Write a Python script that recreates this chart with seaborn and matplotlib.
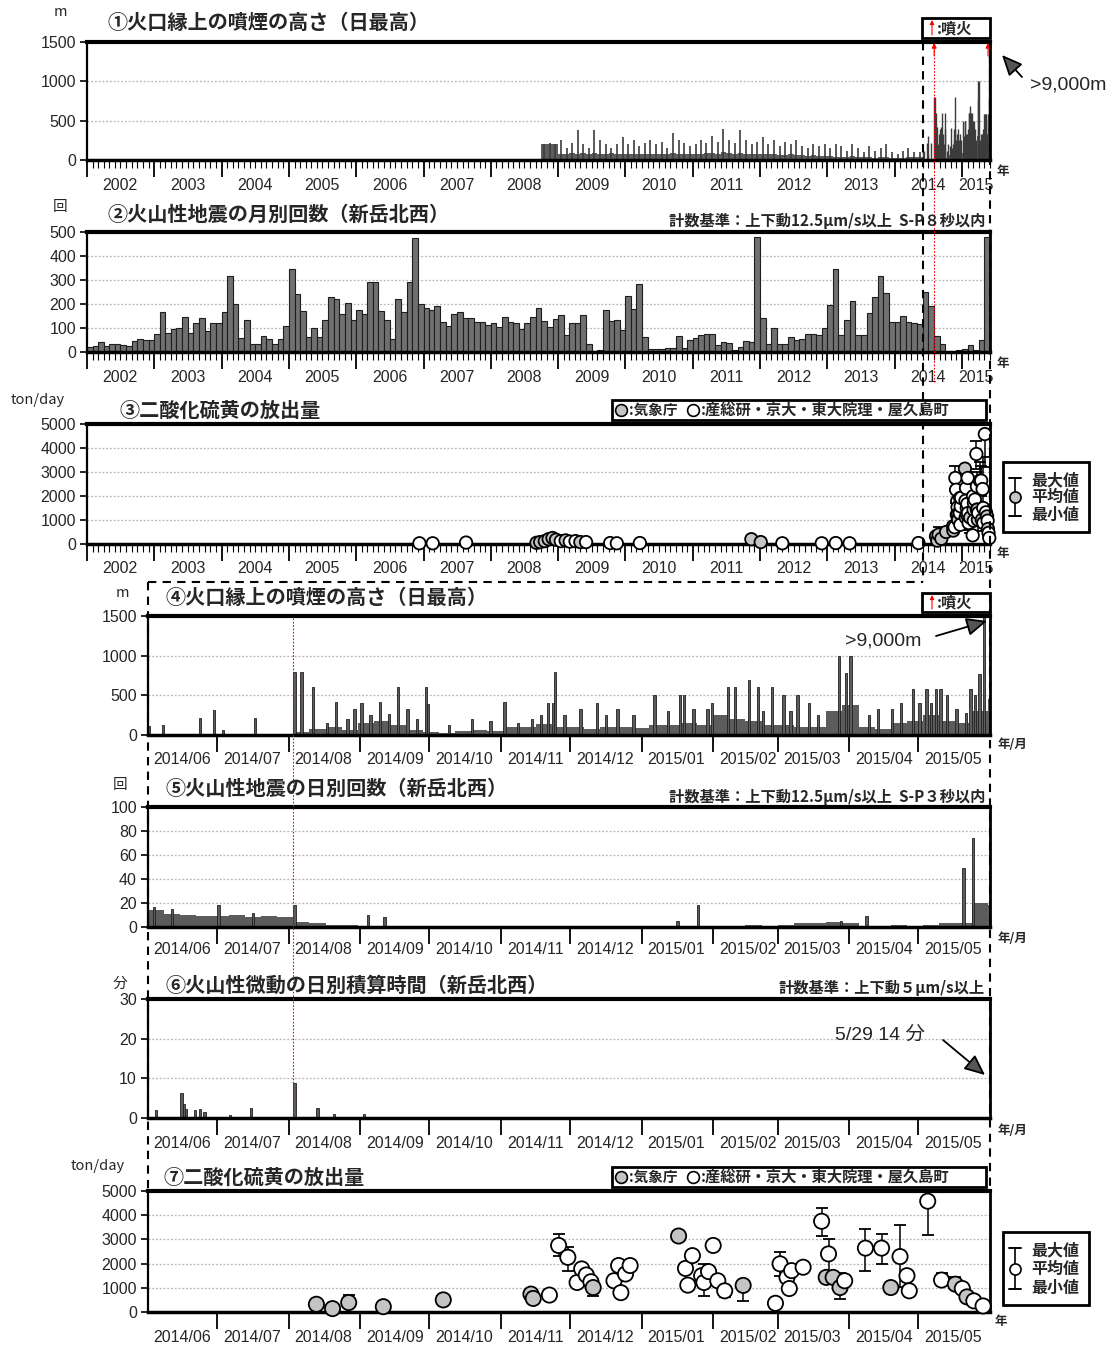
"""
Volcanic activity summary chart (plume height, quakes, tremor, SO2).
Seven stacked panels: long-term 2002-2015 on top, 2014/06-2015/05 detail below.
"""
import numpy as np
import pandas as pd
import matplotlib
matplotlib.use("Agg")
import matplotlib.pyplot as plt
import matplotlib.dates as mdates
from matplotlib.lines import Line2D
from matplotlib.patches import Rectangle
import seaborn as sns

# ---------------------------------------------------------------- data
# (1) plume height, monthly typical level and monthly max, 2008/10 - 2014/05 (m)
p1_start = "2008-10-01"
p1_level = [200, 200, 200,
            80, 80, 90, 80, 90, 80, 90, 80, 80, 90, 80, 80,
            80, 70, 80, 70, 80, 70, 80, 80, 90, 80, 70, 80,
            80, 80, 90, 90, 80, 100, 90, 80, 90, 80, 80, 70,
            80, 70, 70, 60, 60, 70, 60, 60, 50, 60, 50, 50,
            50, 40, 40, 40, 50, 40, 40, 40, 30, 40, 40, 30,
            30, 30, 40, 40, 40]
p1_max = [200, 220, 200,
          250, 150, 220, 386, 200, 150, 386, 250, 200, 150, 200, 294,
          200, 250, 180, 220, 250, 200, 230, 150, 340, 250, 220, 180,
          200, 250, 220, 300, 230, 400, 250, 220, 386, 250, 200, 230,
          294, 200, 250, 180, 230, 200, 250, 180, 150, 200, 180, 200,
          150, 200, 180, 120, 200, 150, 100, 180, 120, 150, 200, 100,
          80, 120, 150, 100, 100]

# (2) monthly volcanic earthquake counts, 2002/01 - 2015/05
quake_start = "2002-01-01"
quake_month = [20, 25, 42, 25, 35, 35, 30, 25, 45, 53, 48, 48,
               73, 165, 80, 95, 100, 147, 80, 120, 140, 88, 120, 120,
               165, 315, 200, 60, 135, 35, 35, 65, 55, 35, 55, 110,
               345, 240, 170, 63, 100, 63, 135, 230, 220, 160, 205, 135,
               175, 157, 290, 290, 170, 135, 53, 220, 165, 290, 475, 200,
               182, 175, 190, 125, 110, 157, 165, 143, 140, 125, 123, 112,
               119, 105, 147, 123, 122, 94, 119, 147, 185, 130, 105, 137,
               154, 70, 119, 122, 154, 35, 3, 7, 175, 129, 133, 91,
               234, 178, 284, 63, 14, 14, 11, 17, 17, 67, 17, 49,
               60, 70, 73, 74, 28, 42, 39, 7, 21, 45, 42, 479,
               140, 35, 102, 35, 35, 63, 49, 56, 73, 77, 70, 100,
               196, 347, 70, 133, 213, 70, 70, 161, 231, 315, 245, 126,
               126, 151, 126, 119, 115, 250, 190, 65, 32, 0, 0, 7,
               12, 28, 10, 50, 480]

# (3) SO2 emission before 2014/06 (ton/day), 1 = JMA
so2_old_date = ["2006-12-10", "2007-02-20", "2007-08-20", "2008-09-05", "2008-09-25",
                "2008-10-20", "2008-11-10", "2008-12-01", "2008-12-20", "2009-01-15",
                "2009-02-10", "2009-03-05", "2009-04-05", "2009-05-01", "2009-06-01",
                "2009-10-10", "2009-11-15", "2010-03-20", "2011-11-15", "2012-01-05",
                "2012-05-01", "2012-12-01", "2013-02-15", "2013-05-01", "2014-05-10"]
so2_old_val = [30, 30, 60, 50, 80, 120, 200, 250, 180, 120, 150, 100, 120, 80, 80,
               40, 30, 40, 200, 80, 30, 30, 40, 30, 40]
so2_old_jma = [0, 0, 0, 1, 1, 1, 1, 1, 1, 0, 1, 0, 0, 1, 0, 0, 0, 0, 1, 1, 0, 0, 0, 0, 0]

# detail period starts 2014/06/01; days below are offsets from that date
detail_start = "2014-06-01"

# (4) daily plume height: weekly level + individual daily peaks (m)
p4_week_level = [10, 5, 5, 10, 10, 5, 5, 5, 5, 40, 80, 100, 60, 150, 180, 120, 60, 40,
                 20, 50, 60, 50, 100, 100, 140, 100, 100, 80, 100, 100, 90, 130, 120,
                 150, 120, 250, 200, 180, 120, 120, 100, 100, 300, 380, 100, 80, 150,
                 180, 250, 180, 150, 300, 460]
p4_spike_day = [0, 6, 22, 28, 32, 46, 63, 66, 71, 77, 81, 86, 89, 92, 96, 100, 104, 108,
                112, 116, 120, 121, 130, 140, 148, 154, 160, 166, 170, 173, 175, 176, 180,
                187, 194, 198, 203, 210, 219, 225, 230, 232, 236, 242, 244, 251, 254, 260,
                264, 266, 270, 275, 278, 281, 286, 290, 299, 302, 304, 312, 316, 322, 326,
                331, 334, 337, 339, 341, 343, 346, 350, 354, 356, 358, 360, 362]
p4_spike_val = [110, 120, 210, 310, 60, 210, 795, 795, 600, 150, 420, 200, 330, 400, 250,
                420, 260, 600, 330, 200, 600, 390, 120, 200, 180, 410, 150, 200, 250, 400,
                400, 795, 250, 330, 400, 250, 330, 250, 500, 300, 500, 500, 330, 330, 400,
                600, 600, 690, 600, 300, 600, 500, 300, 500, 400, 250, 1000, 780, 1000, 250,
                330, 330, 400, 580, 400, 580, 400, 580, 580, 500, 330, 280, 580, 500, 770,
                9000]

# (5) daily volcanic earthquake counts: weekly level + peaks
p5_week_level = [14, 11, 10, 9, 9, 10, 8, 9, 8, 4, 3, 2, 2, 1, 1, 1, 1, 0,
                 0, 0, 0, 0, 0, 0, 1, 0, 0, 0, 0, 0, 1,
                 1, 1, 1, 1, 1, 1, 2, 1, 2, 3, 3, 4, 3, 1, 1, 2, 1, 2, 3, 3, 20, 18]
p5_spike_day = [2, 10, 30, 45, 63, 95, 102, 229, 238, 300, 311, 353, 357]
p5_spike_val = [17, 15, 18, 12, 18, 10, 8, 5, 18, 5, 9, 49, 74]

# (6) daily tremor duration (minutes)
p6_day = [3, 14, 15, 16, 20, 22, 24, 35, 44, 63, 73, 80, 93]
p6_min = [1.9, 6.3, 3.5, 2.2, 2.0, 2.3, 1.6, 0.8, 2.6, 8.9, 2.6, 1.0, 0.9]

# (7) SO2 emission 2014/06 - 2015/05 (ton/day): mean, JMA flag, min, max
so2_day = [73, 80, 87, 102, 128, 166, 167, 174, 178, 182, 186, 188, 190, 192, 193,
           202, 204, 205, 207, 209, 230, 233, 234, 236, 240, 241, 243, 245, 247, 250,
           258, 272, 274, 277, 278, 279, 284, 292, 294, 295, 297, 300, 302, 311, 318,
           322, 326, 329, 330, 338, 344, 350, 353, 355, 358, 362]
so2_val = [320, 140, 390, 220, 500, 740, 560, 700, 2750, 2260, 1220, 1780, 1530, 1250, 1010,
           1290, 1920, 800, 1570, 1920, 3140, 1800, 1110, 2330, 1500, 1220, 1670, 2750, 1290, 875,
           1100, 360, 1990, 1430, 970, 1710, 1850, 3750, 1430, 2400, 1430, 1010, 1290, 2640, 2640,
           1010, 2290, 1500, 875, 4580, 1320, 1150, 970, 625, 460, 250]
so2_jma = [1, 1, 1, 1, 1, 1, 1, 0, 0, 0, 0, 0, 0, 0, 1,
           0, 0, 0, 0, 0, 1, 0, 0, 0, 0, 0, 0, 0, 0, 0,
           1, 0, 0, 0, 0, 0, 0, 0, 1, 0, 1, 1, 0, 0, 0,
           1, 0, 0, 0, 0, 0, 1, 0, 1, 0, 0]
nan = np.nan
so2_lo = [nan, nan, nan, nan, nan, nan, nan, nan, 2300, 1700, nan, nan, nan, nan, 670,
          nan, nan, nan, nan, nan, nan, nan, nan, nan, nan, 670, nan, nan, nan, 600,
          460, nan, 1500, nan, nan, nan, nan, 3120, nan, 1600, nan, 530, nan, 1710, 1990,
          800, 1050, nan, nan, 3190, nan, nan, nan, nan, nan, nan]
so2_hi = [nan, nan, 690, nan, nan, nan, nan, nan, 3240, 2700, nan, nan, nan, nan, 1350,
          nan, nan, nan, nan, nan, nan, nan, nan, nan, nan, 2000, nan, nan, nan, nan,
          1250, nan, 2500, nan, nan, nan, nan, 4300, nan, 3000, nan, 1600, nan, 3420, 3240,
          1200, 3610, nan, nan, nan, 1610, 1430, nan, nan, nan, nan]

eruptions = ["2014-08-03", "2015-05-29"]

# ---------------------------------------------------------------- style
sns.set_theme(style="white")
plt.rcParams["font.family"] = ["Noto Sans CJK JP", "DejaVu Sans"]
NUM = ["Liberation Sans", "DejaVu Sans"]
BAR = "#5c5c5c"

W, H = 1110, 1348
fig = plt.figure(figsize=(W / 100, H / 100), dpi=100)


def num(d):
    return mdates.date2num(pd.Timestamp(d))


D0 = num(detail_start)
L0, L1 = num("2002-01-01"), num("2015-06-02")
S1 = num("2015-06-01")


def axes_at(l, t, r, b):
    return fig.add_axes([l / W, 1 - b / H, (r - l) / W, (b - t) / H])


def fig_line(x0, y0, x1, y1, **kw):
    fig.add_artist(Line2D([x0 / W, x1 / W], [1 - y0 / H, 1 - y1 / H],
                          transform=fig.transFigure, **kw))


def fig_text(x, y, s, **kw):
    fig.text(x / W, 1 - y / H, s, **kw)


def fig_arrow(ax, x0, y0, x1, y1, **kw):
    ax.annotate("", xy=(x1, H - y1), xytext=(x0, H - y0), xycoords="figure pixels",
                textcoords="figure pixels", annotation_clip=False, arrowprops=kw)


def long_px(d):
    return 87 + (num(d) - L0) / (L1 - L0) * (990 - 87)


def frame(ax, ymax, ystep):
    ax.set_ylim(0, ymax)
    ticks = np.arange(0, ymax + 1, ystep)
    ax.set_yticks(ticks)
    ax.set_yticklabels([f"{t:g}" for t in ticks], fontfamily=NUM, fontsize=11.5)
    ax.grid(axis="y", color="#b5b5b5", lw=0.9, ls=(0, (1.5, 1.5)))
    ax.grid(axis="x", visible=False)
    ax.set_axisbelow(True)
    for s in ax.spines.values():
        s.set_visible(True)
        s.set_color("black")
    ax.spines["top"].set_linewidth(3)
    ax.spines["bottom"].set_linewidth(2.5)
    ax.spines["left"].set_linewidth(1.6)
    ax.spines["right"].set_linewidth(2)
    ax.tick_params(axis="y", left=True, length=5, width=1.2, pad=3, color="black")


def long_xaxis(ax):
    ax.set_xlim(L0, L1)
    ax.set_xticks(mdates.date2num(pd.date_range("2002-01-01", "2015-01-01", freq="YS")))
    ax.set_xticklabels([])
    ax.set_xticks(mdates.date2num(pd.date_range("2002-01-01", "2015-06-01", freq="MS")), minor=True)
    ax.tick_params(axis="x", which="major", bottom=True, length=12, width=1.3, color="black")
    ax.tick_params(axis="x", which="minor", bottom=True, length=6, width=0.8, color="black")
    for yr in range(2002, 2016):
        mid = num(f"{yr}-07-01") if yr < 2015 else num("2015-03-16")
        ax.annotate(str(yr), xy=(mid, 0), xycoords=("data", "axes fraction"),
                    xytext=(0, -18), textcoords="offset points", ha="center", va="center",
                    fontsize=11.5, fontfamily=NUM)


def short_xaxis(ax, off=-18):
    ax.set_xlim(D0, S1)
    ax.set_xticks(mdates.date2num(pd.date_range("2014-07-01", "2015-05-01", freq="MS")))
    ax.set_xticklabels([])
    ax.tick_params(axis="x", bottom=True, length=12, width=1.3, color="black")
    for m in pd.date_range(detail_start, "2015-05-01", freq="MS"):
        ax.annotate(f"{m.year}/{m.month:02d}", xy=(num(m) + 15, 0),
                    xycoords=("data", "axes fraction"), xytext=(0, off),
                    textcoords="offset points", ha="center", va="center",
                    fontsize=11.5, fontfamily=NUM)


def title(x, y, s):
    fig_text(x, y, s, fontsize=14.5, fontweight="bold", ha="left", va="center")


def criteria(y, s):
    fig_text(985, y, s, fontsize=11, fontweight="bold", ha="right", va="center")


def so2_points(ax, x, val, jma, lo, hi, size):
    df = pd.DataFrame({"x": x, "y": val, "src": np.where(np.array(jma) == 1, "jma", "other")})
    lo = np.array(lo, dtype=float)
    hi = np.array(hi, dtype=float)
    has = ~(np.isnan(lo) & np.isnan(hi))
    v = np.array(val, dtype=float)
    if has.any():
        lo_e = np.where(np.isnan(lo), v, lo)[has]
        hi_e = np.where(np.isnan(hi), v, hi)[has]
        ax.errorbar(np.array(x)[has], v[has], yerr=[v[has] - lo_e, hi_e - v[has]],
                    fmt="none", ecolor="black", elinewidth=1.1, capsize=4.5, capthick=1.3,
                    zorder=3)
    sns.scatterplot(data=df, x="x", y="y", hue="src",
                    palette={"jma": "#c4c4c4", "other": "white"},
                    edgecolor="black", linewidth=1.3, s=size, legend=False,
                    ax=ax, zorder=5, clip_on=False)
    ax.set_xlabel("")
    ax.set_ylabel("")


# ---------------------------------------------------------------- panel 1
ax1 = axes_at(87, 42, 990, 160)
frame(ax1, 1500, 500)
long_xaxis(ax1)
m1 = mdates.date2num(pd.date_range(p1_start, periods=len(p1_level) + 1, freq="MS"))
ax1.bar(m1[:-1], p1_level, width=np.diff(m1), align="edge", color=BAR, lw=0)
ax1.vlines(m1[:-1] + np.diff(m1) / 2, 0, p1_max, color="#3c3c3c", lw=1.2)
ax1.bar(D0 + 7 * np.arange(len(p4_week_level)), p4_week_level, width=7, align="edge",
        color=BAR, lw=0)
ax1.vlines(D0 + np.array(p4_spike_day), 0, p4_spike_val, color="#3c3c3c", lw=1.0)

# ---------------------------------------------------------------- panel 2
ax2 = axes_at(87, 232, 990, 352)
frame(ax2, 500, 100)
long_xaxis(ax2)
m2 = mdates.date2num(pd.date_range(quake_start, periods=len(quake_month) + 1, freq="MS"))
ax2.bar(m2[:-1], quake_month, width=np.diff(m2), align="edge", color="#707070",
        edgecolor="#1e1e1e", lw=0.8)

# ---------------------------------------------------------------- panel 3
ax3 = axes_at(87, 424, 990, 544)
frame(ax3, 5000, 1000)
long_xaxis(ax3)
so2_points(ax3, [num(d) for d in so2_old_date], so2_old_val, so2_old_jma,
           [nan] * len(so2_old_val), [nan] * len(so2_old_val), 80)
so2_points(ax3, D0 + np.array(so2_day), so2_val, so2_jma, so2_lo, so2_hi, 80)
ax3.set_xlim(L0, L1)
ax3.set_ylim(0, 5000)

# ---------------------------------------------------------------- panel 4
ax4 = axes_at(148, 616, 990, 735)
frame(ax4, 1500, 500)
short_xaxis(ax4)
ax4.bar(D0 + 7 * np.arange(len(p4_week_level)), p4_week_level, width=7, align="edge",
        color=BAR, lw=0)
ax4.bar(D0 + np.array(p4_spike_day), p4_spike_val, width=1.0, align="edge",
        color=BAR, edgecolor="#202020", lw=0.6)

# ---------------------------------------------------------------- panel 5
ax5 = axes_at(148, 807, 990, 927)
frame(ax5, 100, 20)
short_xaxis(ax5, off=-16)
ax5.bar(D0 + 7 * np.arange(len(p5_week_level)), p5_week_level, width=7, align="edge",
        color=BAR, lw=0)
ax5.bar(D0 + np.array(p5_spike_day), p5_spike_val, width=1.0, align="edge",
        color=BAR, edgecolor="#202020", lw=0.6)

# ---------------------------------------------------------------- panel 6
ax6 = axes_at(148, 999, 990, 1118)
frame(ax6, 30, 10)
short_xaxis(ax6)
ax6.bar(D0 + np.array(p6_day), p6_min, width=1.0, align="edge", color=BAR,
        edgecolor="#202020", lw=0.6)

# ---------------------------------------------------------------- panel 7
ax7 = axes_at(148, 1191, 990, 1312)
frame(ax7, 5000, 1000)
short_xaxis(ax7)
so2_points(ax7, D0 + np.array(so2_day), so2_val, so2_jma, so2_lo, so2_hi, 120)
ax7.set_xlim(D0, S1)
ax7.set_ylim(0, 5000)

# ---------------------------------------------------------------- texts
title(107, 22, "①火口縁上の噴煙の高さ（日最高）")
title(107, 214, "②火山性地震の月別回数（新岳北西）")
title(120, 410, "③二酸化硫黄の放出量")
title(165, 597, "④火口縁上の噴煙の高さ（日最高）")
title(165, 788, "⑤火山性地震の日別回数（新岳北西）")
title(165, 985, "⑥火山性微動の日別積算時間（新岳北西）")
title(163, 1177, "⑦二酸化硫黄の放出量")

criteria(221, "計数基準：上下動12.5μm/s以上  S-P８秒以内")
criteria(797, "計数基準：上下動12.5μm/s以上  S-P３秒以内")
criteria(988, "計数基準：上下動５μm/s以上")

for x, y, s in [(60, 12, "m"), (60, 207, "回"), (38, 400, "ton/day"), (122, 593, "m"),
                (120, 785, "回"), (120, 984, "分"), (98, 1166, "ton/day")]:
    fig_text(x, y, s, fontsize=10.5, ha="center", va="center")

for x, y, s in [(1003, 172, "年"), (1003, 364, "年"), (1003, 553, "年"), (1012, 745, "年/月"),
                (1012, 938, "年/月"), (1012, 1130, "年/月"), (1001, 1322, "年")]:
    fig_text(x, y, s, fontsize=9, fontweight="bold", ha="center", va="center")

# >9,000 m and 5/29 notes
head = dict(arrowstyle="-|>,head_length=0.9,head_width=0.4", fc="#555555", ec="black",
            lw=1.3, mutation_scale=14, shrinkA=0, shrinkB=0)
fig_text(1030, 85, ">9,000m", fontsize=14, fontfamily=NUM, ha="left", va="center")
fig_arrow(ax1, 1022, 77, 1002, 55, **head)
fig_text(845, 641, ">9,000m", fontsize=14, fontfamily=NUM, ha="left", va="center")
fig_arrow(ax4, 936, 636, 987, 621, **head)
fig_text(835, 1035, "5/29 14 分", fontsize=14, fontfamily=["Liberation Sans", "Noto Sans CJK JP"],
         ha="left", va="center")
fig_arrow(ax6, 943, 1040, 985, 1075, **head)

# ---------------------------------------------------------------- legends
def eruption_key(y0, y1):
    fig.add_artist(Rectangle((922 / W, 1 - y1 / H), 68 / W, (y1 - y0) / H,
                             transform=fig.transFigure, fill=False, ec="black", lw=2))
    fig_arrow(ax1, 932, y1 - 3, 932, y0 + 2, arrowstyle="-|>", color="red", lw=0.8,
              mutation_scale=6, shrinkA=0, shrinkB=0)
    fig_text(937, (y0 + y1) / 2, ":噴火", fontsize=11, fontweight="bold", ha="left",
             va="center")


eruption_key(18, 38)
eruption_key(593, 612)


def so2_key(y0, y1):
    fig.add_artist(Rectangle((612 / W, 1 - y1 / H), 374 / W, (y1 - y0) / H,
                             transform=fig.transFigure, fill=False, ec="black", lw=2))
    ym = (y0 + y1) / 2
    for x, fc in [(621, "#c4c4c4"), (693, "white")]:
        fig.add_artist(Line2D([x / W], [1 - ym / H], marker="o", ms=8.5, mfc=fc, mec="black",
                              mew=1.2, transform=fig.transFigure))
    fig_text(629, ym, ":気象庁", fontsize=10.5, fontweight="bold", ha="left", va="center")
    fig_text(701, ym, ":産総研・京大・東大院理・屋久島町", fontsize=11, fontweight="bold",
             ha="left", va="center")


so2_key(400, 420)
so2_key(1167, 1187)


def stat_key(x0, y0, y1, fc):
    fig.add_artist(Rectangle((x0 / W, 1 - y1 / H), 86 / W, (y1 - y0) / H,
                             transform=fig.transFigure, fill=False, ec="black", lw=2))
    xs = x0 + 12
    ytop, ymid, ybot = y0 + 16, (y0 + y1) / 2, y1 - 16
    fig_line(xs, ytop, xs, ybot, color="black", lw=1.2)
    for yy in (ytop, ybot):
        fig_line(xs - 6, yy, xs + 6, yy, color="black", lw=1.4)
    fig.add_artist(Line2D([xs / W], [1 - ymid / H], marker="o", ms=8, mfc=fc, mec="black",
                          mew=1.2, transform=fig.transFigure))
    for yy, s in [(ytop + 2, "最大値"), (ymid, "平均値"), (ybot - 1, "最小値")]:
        fig_text(x0 + 28, yy, s, fontsize=11.5, fontweight="bold", ha="left", va="center")


stat_key(1003, 462, 532, "#c4c4c4")
stat_key(1003, 1232, 1305, "white")

# ---------------------------------------------------------------- guide lines
dash = dict(color="black", lw=1.5, ls=(0, (4, 3)))
x_sep = long_px(detail_start)
fig_line(x_sep, 42, x_sep, 582, **dash)
fig_line(148, 582, x_sep, 582, **dash)
fig_line(148, 582, 148, 1190, **dash)
fig_line(990, 40, 990, 1190, **dash)

red = dict(color="red", lw=0.8, ls=(0, (1.5, 1.5)))
x_e1 = long_px(eruptions[0])
fig_line(x_e1, 44, x_e1, 382, **red)
x_e1s = 148 + (num(eruptions[0]) - D0) / (S1 - D0) * (990 - 148)
fig_line(x_e1s, 618, x_e1s, 1118, **red)
redhead = dict(arrowstyle="-|>", color="red", lw=0.8, mutation_scale=7, shrinkA=0, shrinkB=0)
for x, y in [(x_e1, 42), (988, 42), (x_e1s, 616), (988, 616)]:
    fig_arrow(ax1, x, y + 14, x, y + 1, **redhead)

fig.savefig("out.png", dpi=100, facecolor="white")
